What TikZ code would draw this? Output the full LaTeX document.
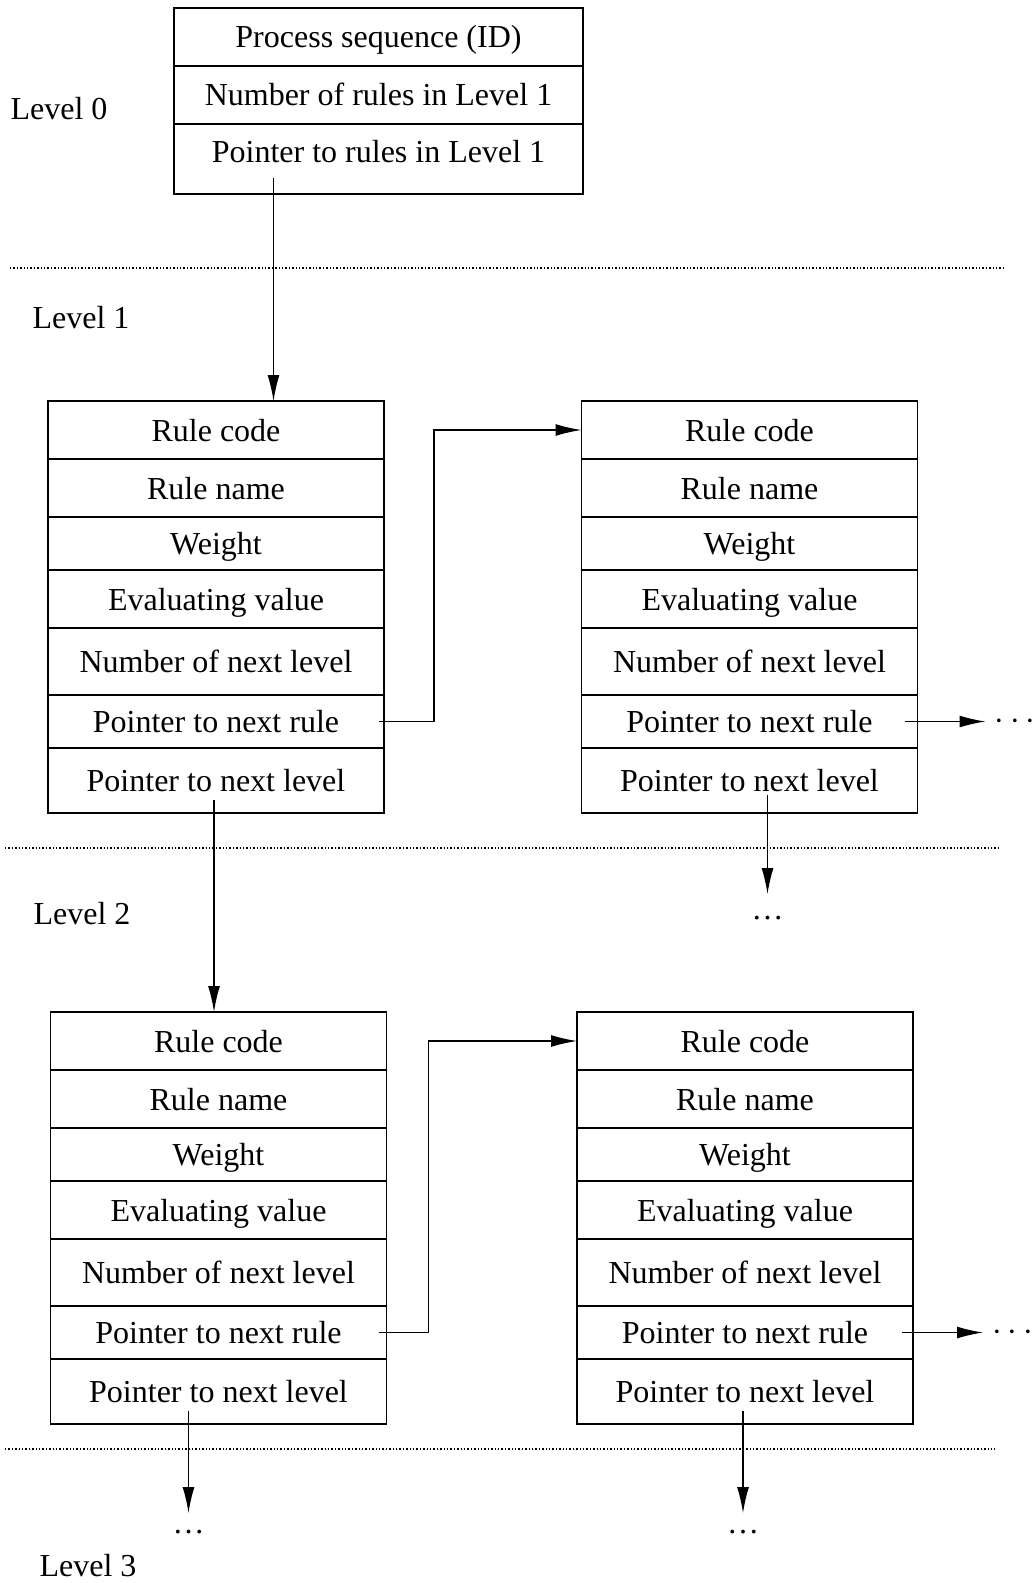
\documentclass[tikz,border=0pt]{standalone}
\usepackage{fontspec}
\setmainfont{Liberation Serif}
\usetikzlibrary{arrows.meta,positioning}

\begin{document}
\begin{tikzpicture}[x=0.5pt, y=-0.5pt, >={Latex[length=13pt,width=6pt]},
  font=\fontsize{16pt}{19pt}\selectfont,
  cell/.style={draw, line width=0.9pt, minimum width=168pt, inner sep=0pt, outer sep=0pt,
    text height=14.5pt, text depth=3.5pt},
  link/.style={->, line width=0.7pt},
  sep/.style={densely dotted, line width=0.7pt}]
\useasboundingbox (0,0) rectangle (1035,1583);

% level 0 record
\node[cell, minimum width=204.5pt, minimum height=29pt, anchor=north] (t1) at (378.5,8) {Process sequence (ID)};
\node[cell, minimum width=204.5pt, minimum height=29pt, below=0pt of t1] (t2) {Number of rules in Level 1};
\node[cell, minimum width=204.5pt, minimum height=35pt, text depth=10.5pt, below=0pt of t2] (t3) {Pointer to rules in Level 1};

% rule records, two per level
\foreach \b/\x/\y in {a/216/401, b/749.5/401, c/218.5/1012, d/745/1012}{
  \node[cell, minimum height=29pt, anchor=north] (\b1) at (\x,\y) {Rule code};
  \foreach \txt/\h [count=\i from 2] in {Rule name/29pt, Weight/26.5pt,
      Evaluating value/29pt, Number of next level/33.5pt,
      Pointer to next rule/26.5pt, Pointer to next level/32.5pt}{
    \pgfmathtruncatemacro\j{\i-1}
    \node[cell, minimum height=\h, below=0pt of \b\j] (\b\i) {\txt};
  }
}

% levels
\node (lv0) at (59,109) {Level 0};
\node (lv1) at (81,318) {Level 1};
\node (lv2) at (82,914) {Level 2};
\node (lv3) at (88,1566) {Level 3};
\draw[sep] (10,268) -- (1005,268);
\draw[sep] (5,848) -- (1000,848);
\draw[sep] (5,1449) -- (995,1449);

% pointers
\draw[link] ([shift={(-52.5pt,8pt)}]t3.south) coordinate (p0) -- (p0 |- a1.north);
\draw[link] ([xshift=-2.5pt]a6.east) -- ++(27.5pt,0) |- (b1.west);
\draw[link] ([xshift=-6.5pt]b6.east) -- ++(40.5pt,0) node[right=1pt] (bnext) {$\cdots$};
\draw[link] ([shift={(-1pt,6.5pt)}]a7.south) coordinate (p1) -- (p1 |- c1.north);
\draw[link] ([shift={(9pt,9pt)}]b7.south) -- ++(0,-49.5pt) node[below=7.5pt] (bdown) {\ldots};
\draw[link] ([xshift=-4pt]c6.east) -- ++(25pt,0) |- (d1.west);
\draw[link] ([xshift=-5.5pt]d6.east) -- ++(40.5pt,0) node[right=1pt] (dnext) {$\cdots$};
\draw[link] ([shift={(-15pt,6.5pt)}]c7.south) -- ++(0,-51pt) node[below=5pt] (cdown) {\ldots};
\draw[link] ([shift={(-1pt,6.5pt)}]d7.south) -- ++(0,-51pt) node[below=5pt] (ddown) {\ldots};

\end{tikzpicture}
\end{document}
